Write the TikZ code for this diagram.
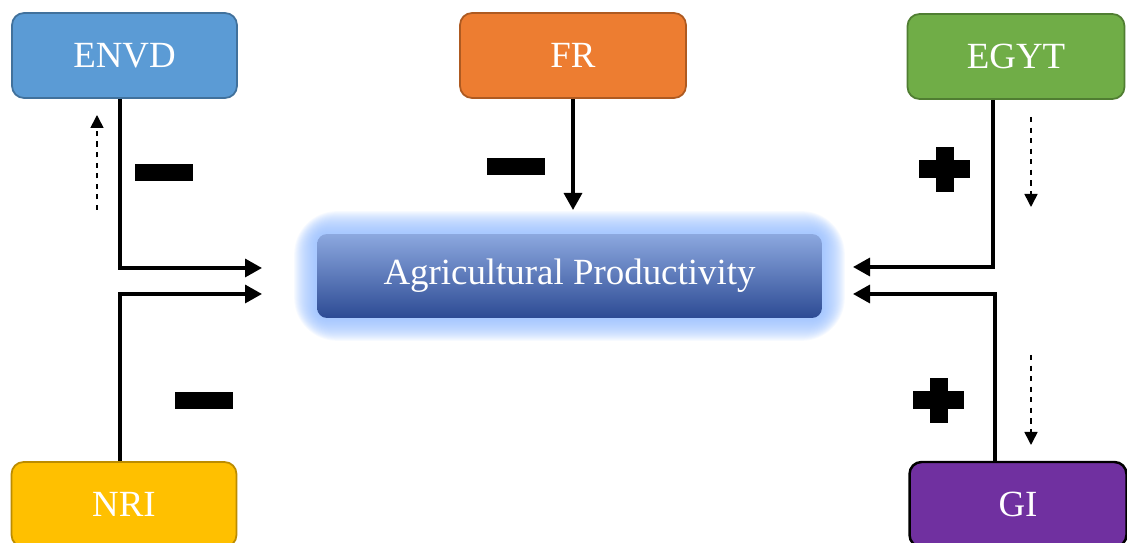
\documentclass[tikz,border=0pt]{standalone}
\usepackage{fontspec}
\setmainfont{Liberation Serif}
\usetikzlibrary{arrows.meta,backgrounds}

\definecolor{envdblue}{HTML}{5B9BD5}
\definecolor{envdline}{HTML}{41719C}
\definecolor{frorange}{HTML}{ED7D31}
\definecolor{frline}{HTML}{AE5A21}
\definecolor{egytgreen}{HTML}{70AD47}
\definecolor{egytline}{HTML}{507E32}
\definecolor{nriyellow}{HTML}{FFC000}
\definecolor{nriline}{HTML}{BC8C00}
\definecolor{gipurple}{HTML}{7030A0}
\definecolor{agritop}{HTML}{8CA8DF}
\definecolor{agribot}{HTML}{2D4B94}
\definecolor{glowblue}{HTML}{94BCFF}

\tikzset{
	minussign/.pic={\fill (-29,-8.5) rectangle (29,8.5);},
	plussign/.pic={\fill (-25.5,-9) rectangle (25.5,9); \fill (-9,-22.5) rectangle (9,22.5);}
}

\begin{document}
\begin{tikzpicture}[x=0.02cm, y=-0.02cm,
	box/.style={draw, rounded corners=0.24cm, line width=1pt, minimum width=4.5cm, minimum height=1.7cm, text=white, font=\fontsize{21}{24}\selectfont},
	link/.style={line width=1.9pt, -{Triangle[length=0.34cm,width=0.36cm]}},
	hint/.style={dashed, line width=0.9pt, -{Triangle[length=0.26cm,width=0.26cm]}},
	glow/.style={fill=glowblue, opacity=0.07}]

\def\width{1127}
\def\height{543}

\path [use as bounding box] (0,0) rectangle (\width,\height);

% BOXES
\node [box, fill=envdblue, draw=envdline] (envd) at (124.5,55.5) {ENVD};
\node [box, fill=frorange, draw=frline, minimum width=4.52cm] (fr) at (573,55.5) {FR};
\node [box, fill=egytgreen, draw=egytline, minimum width=4.34cm] (egyt) at (1016,56.5) {EGYT};
\node [box, fill=nriyellow, draw=nriline] (nri) at (124,504.5) {NRI};
\node [box, fill=gipurple, draw=black, line width=1.4pt, minimum width=4.34cm] (gi) at (1018,504.5) {GI};
\node [box, draw=none, top color=agritop, bottom color=agribot, rounded corners=0.2cm, minimum width=10.1cm, minimum height=1.68cm] (agri) at (569.5,276) {Agricultural Productivity};

% GLOW
\begin{scope}[on background layer]
\foreach \g in {1,...,22}
	\fill [glow, rounded corners=0.2cm+\g*0.03cm] ([shift={(-\g,\g)}]agri.south west) rectangle ([shift={(\g,-\g)}]agri.north east);
\end{scope}

% LINKS
\coordinate (envdin) at (262,268);
\coordinate (nriin) at (262,294);
\coordinate (frin) at (573,210);
\coordinate (egytin) at (853,267);
\coordinate (giin) at (853,294);
\draw [link] ([xshift=-0.09cm]envd.south) |- (envdin);
\draw [link] ([xshift=-0.08cm]nri.north) |- (nriin);
\draw [link] (fr.south) -- (frin);
\draw [link] ([xshift=-0.46cm]egyt.south) |- (egytin);
\draw [link] ([xshift=-0.46cm]gi.north) |- (giin);

% HINTS
\coordinate (envdup0) at (97,210);
\coordinate (envdup1) at (97,115);
\coordinate (egytdn0) at (1031,117);
\coordinate (egytdn1) at (1031,207);
\coordinate (gidn0) at (1031,355);
\coordinate (gidn1) at (1031,445);
\draw [hint] (envdup0) -- (envdup1);
\draw [hint] (egytdn0) -- (egytdn1);
\draw [hint] (gidn0) -- (gidn1);

% SIGNS
\pic at (164,172.5) {minussign};
\pic at (515.5,166.5) {minussign};
\pic at (203.5,400.5) {minussign};
\pic at (944.5,169.5) {plussign};
\pic at (938.5,400.5) {plussign};

\end{tikzpicture}
\end{document}
